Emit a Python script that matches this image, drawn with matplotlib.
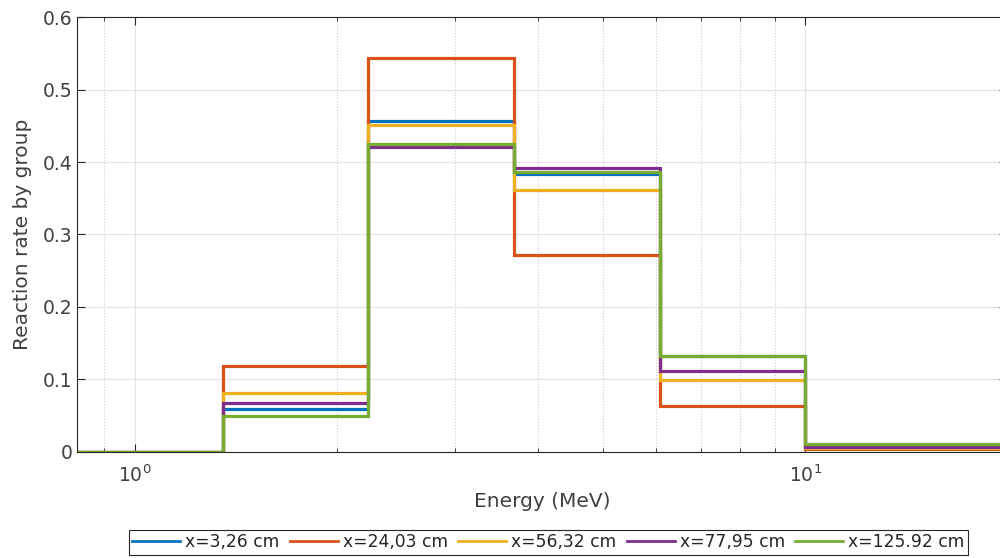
import matplotlib.pyplot as plt
import numpy as np

# energy group boundaries (MeV) and reaction rate per group
edges = [0.8208, 1.3534, 2.2313, 3.6788, 6.0653, 10.0, 20.0]
labels = ['x=3,26 cm', 'x=24,03 cm', 'x=56,32 cm', 'x=77,95 cm', 'x=125.92 cm']
rate_x3 = [0.0, 0.059, 0.456, 0.383, 0.132, 0.0100]
rate_x24 = [0.0, 0.119, 0.543, 0.272, 0.064, 0.0037]
rate_x56 = [0.0, 0.082, 0.4515, 0.361, 0.099, 0.0055]
rate_x77 = [0.0, 0.0676, 0.4207, 0.3917, 0.112, 0.0073]
rate_x125 = [0.0, 0.0492, 0.4244, 0.3866, 0.1324, 0.0106]

colors = ['#0072BD', '#D95319', '#EDB120', '#7E2F8E', '#77AC30']

fig = plt.figure(figsize=(10, 5.58), dpi=100)
ax = fig.add_axes([0.0773, 0.19, 0.9297, 0.7795])

for vals, lab, c in zip([rate_x3, rate_x24, rate_x56, rate_x77, rate_x125], labels, colors):
    ax.stairs(vals, edges, baseline=None, color=c, linewidth=2.3, label=lab)

ax.set_xscale('log')
ax.set_xlim(edges[0], edges[-1])
ax.set_ylim(0, 0.6)
ax.set_yticks(np.arange(0, 0.61, 0.1))
ax.set_yticklabels(['0', '0.1', '0.2', '0.3', '0.4', '0.5', '0.6'])

# MATLAB-like look
ax.grid(True, which='major', color='#e3e3e3', linestyle='-', linewidth=0.8)
ax.grid(True, which='minor', axis='x', color='#cccccc', linestyle=':', linewidth=0.8)
ax.set_axisbelow(True)
ax.tick_params(which='both', direction='in', top=True, right=True, colors='#262626', labelsize=13.5)
ax.tick_params(axis='both', labelcolor='#404040')
ax.tick_params(which='major', length=6)
ax.tick_params(which='minor', length=3)
ax.tick_params(axis='x', which='minor', labelbottom=False)
ax.tick_params(axis='x', pad=9)
for sp in ax.spines.values():
    sp.set_color('#262626')
    sp.set_linewidth(0.8)

ax.set_xlabel('Energy (MeV)', fontsize=14.5, color='#404040', labelpad=4)
ax.set_ylabel('Reaction rate by group', fontsize=14.5, color='#404040', labelpad=8)

handles = [plt.Line2D([], [], color=c, linewidth=2.0) for c in colors]
leg = fig.legend(handles, labels, loc='center', bbox_to_anchor=(0.5485, 0.028), ncol=5,
                 fontsize=12.3, handlelength=2.8, handletextpad=0.3, columnspacing=0.6,
                 borderpad=0.2, fancybox=False, framealpha=1, edgecolor='#262626')
leg.get_frame().set_linewidth(0.8)
for t in leg.get_texts():
    t.set_color('#262626')

fig.savefig('out.png', dpi=100)
